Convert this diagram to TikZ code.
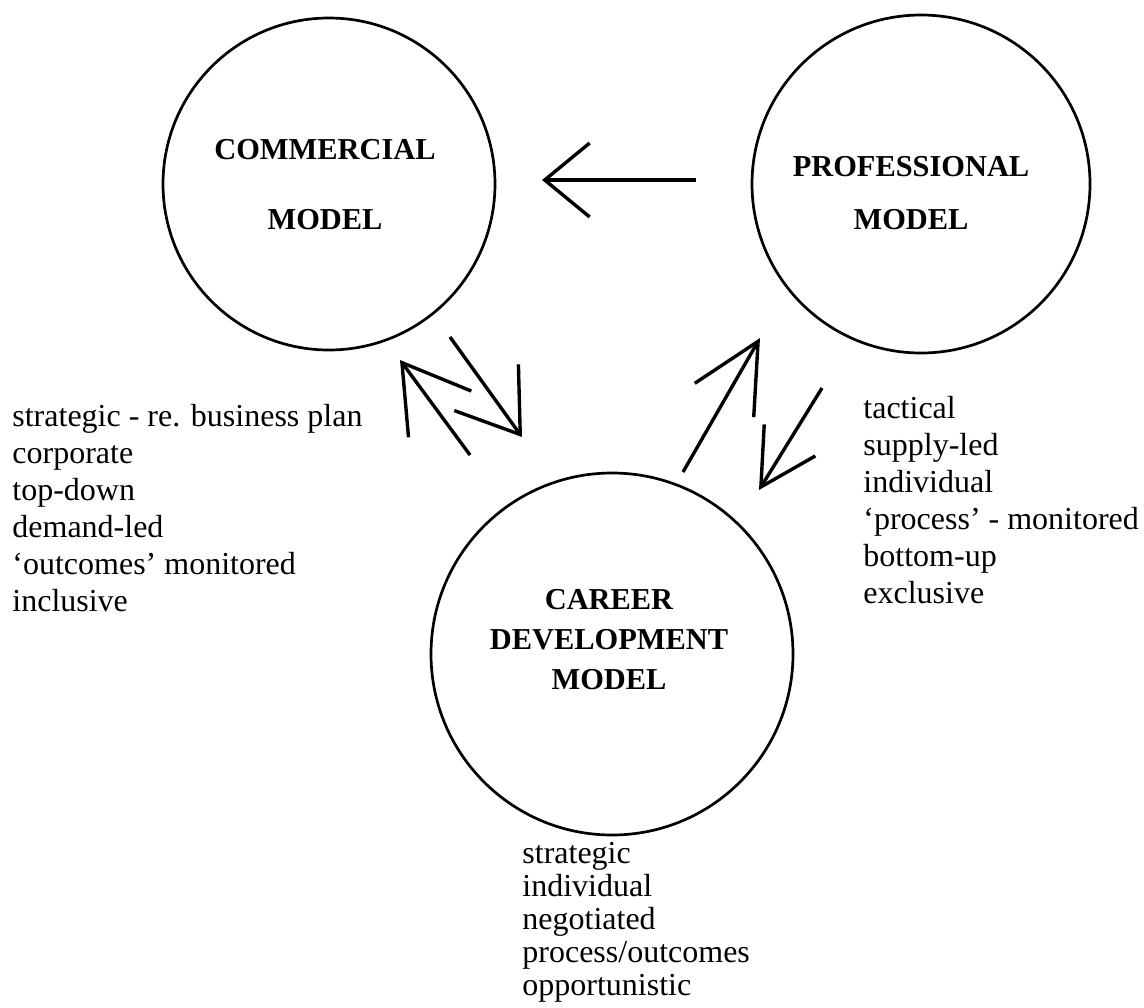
\documentclass[tikz,border=0pt]{standalone}
\usepackage{fontspec}
\setmainfont{Liberation Serif}
\usetikzlibrary{arrows.meta,positioning}

\tikzset{
  model/.style={circle, draw, line width=1.35pt, inner sep=0pt, minimum size=#1},
  title/.style={font=\fontsize{15.2}{18}\selectfont\bfseries, align=center, inner sep=0pt},
  traits/.style={font=\fontsize{16}{18.5}\selectfont, align=left, inner sep=0pt, anchor=base west},
  flow/.style 2 args={line width=1.7pt, -{Straight Barb[length=#1, width=#2]}},
}

\begin{document}
\begin{tikzpicture}[x=0.5pt, y=-0.5pt]
\useasboundingbox (0,0) rectangle (1144,1007);

% the three models
\node[model=166pt] (comm) at (329,184) {};
\node[model=169pt] (prof) at (921,184) {};
\node[model=181pt] (career) at (612,654) {};

\node[title] (commtxt) at (325,185) {COMMERCIAL\\[17pt]MODEL};
\node[title] (proftxt) at (911,193) {PROFESSIONAL\\[8.5pt]MODEL};
\node[title] (careertxt) at (609,640) {CAREER\\[2pt]DEVELOPMENT\\[2pt]MODEL};

% traits of each model (base = last line)
\node[traits] (commlist) at (12,611) {strategic - re. business plan\\corporate\\top-down\\demand-led\\`outcomes' monitored\\inclusive};
\node[traits] (proflist) at (863,603) {tactical\\supply-led\\individual\\`process' - monitored\\bottom-up\\exclusive};
\node[traits, font=\fontsize{16}{16.5}\selectfont] (careerlist) at (522,995) {strategic\\individual\\negotiated\\process/outcomes\\opportunistic};

% flows between the models
\coordinate (pc1) at (696,180); \coordinate (pc2) at (542,180);
\coordinate (kc1) at (470,455); \coordinate (kc2) at (400,360);
\coordinate (ck1) at (450,337); \coordinate (ck2) at (522,437);
\coordinate (kp1) at (683,472); \coordinate (kp2) at (760,338);
\coordinate (pk1) at (822,388); \coordinate (pk2) at (759,490);

\draw[flow={22.5pt}{37pt}] (pc1) -- (pc2);
\draw[flow={32pt}{39pt}] (kc1) -- (kc2);
\draw[flow={29pt}{39.5pt}] (ck1) -- (ck2);
\draw[flow={34pt}{34pt}] (kp1) -- (kp2);
\draw[flow={27.5pt}{30pt}] (pk1) -- (pk2);

\end{tikzpicture}
\end{document}
